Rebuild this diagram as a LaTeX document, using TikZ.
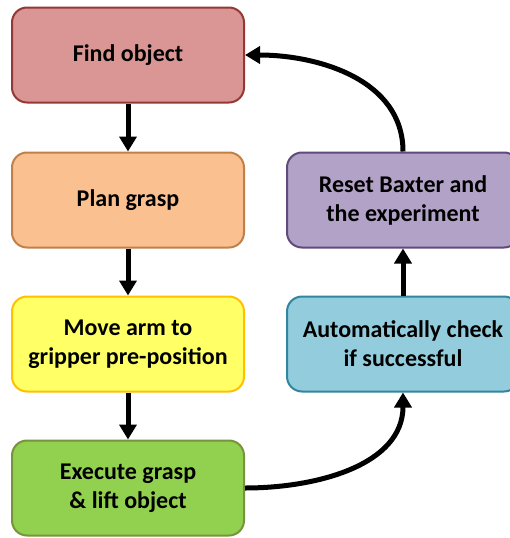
\documentclass[tikz,border=0pt]{standalone}
\usepackage{fontspec}
\setmainfont{Carlito}
\usetikzlibrary{arrows.meta}
\definecolor{redf}{HTML}{D99694}\definecolor{redd}{HTML}{953735}
\definecolor{orf}{HTML}{FAC090}\definecolor{ord}{HTML}{C0804A}
\definecolor{yef}{HTML}{FFFF66}\definecolor{yed}{HTML}{FFC000}
\definecolor{grf}{HTML}{92D050}\definecolor{grd}{HTML}{77933C}
\definecolor{blf}{HTML}{93CDDD}\definecolor{bld}{HTML}{31859C}
\definecolor{puf}{HTML}{B3A2C7}\definecolor{pud}{HTML}{604A7B}
\tikzset{
  stepbox/.style={draw, line width=2pt, rounded corners=15pt, minimum width=232pt, minimum height=95pt,
    align=center, font=\bfseries\fontsize{24}{29}\selectfont, inner sep=0pt},
  flow/.style={line width=5pt, -{Triangle[length=15pt,width=17pt]}}
}
\begin{document}
\begin{tikzpicture}[x=1pt,y=-1pt]
\useasboundingbox (0,0) rectangle (510,538);
\begin{scope}
\clip (0,0) rectangle (510,538);
\node[stepbox, fill=redf, draw=redd] (find) at (128,55) {Find object};
\node[stepbox, fill=orf, draw=ord] (plan) at (128,200) {Plan grasp};
\node[stepbox, fill=yef, draw=yed] (move) at (128,344) {Move arm to\\gripper pre-position};
\node[stepbox, fill=grf, draw=grd] (exec) at (128,488) {Execute grasp\\\& lift object};
\node[stepbox, fill=blf, draw=bld] (check) at (403,344) {Automatically check\\if successful};
\node[stepbox, fill=puf, draw=pud] (reset) at (403,200) {Reset Baxter and\\the experiment};
\end{scope}
\draw[flow] (find) -- (plan);
\draw[flow] (plan) -- (move);
\draw[flow] (move) -- (exec);
\draw[flow] (check) -- (reset);
\draw[flow] (exec.east) to[out=0,in=-90] (check.south);
\draw[flow] (reset.north) to[out=90,in=0] (find.east);
\end{tikzpicture}
\end{document}
